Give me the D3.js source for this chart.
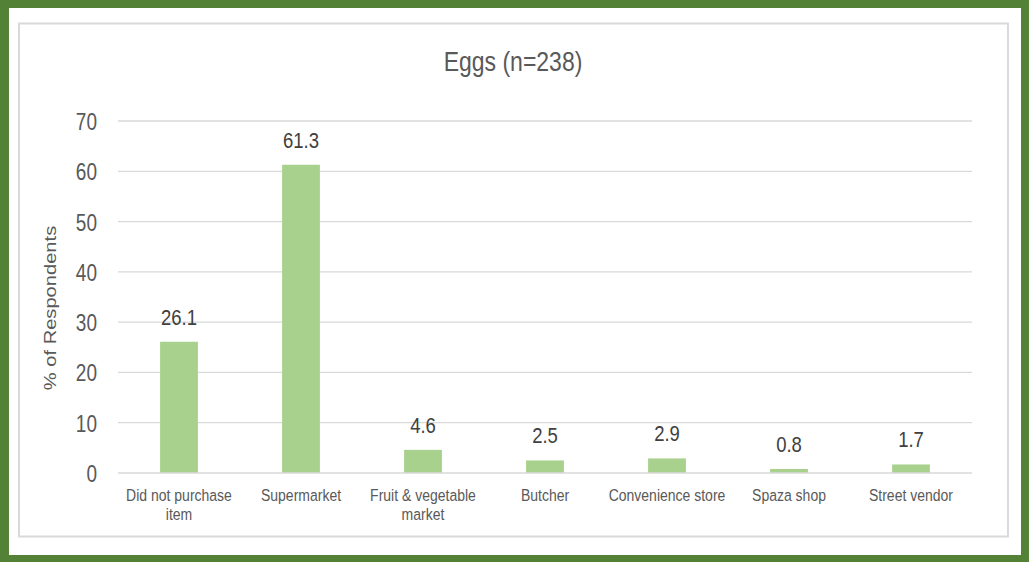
<!DOCTYPE html>
<html>
<head>
<meta charset="utf-8">
<script src="https://cdn.jsdelivr.net/npm/d3@7"></script>
<style>
  html, body { margin: 0; padding: 0; background: #538135; }
  svg { display: block; }
  text { font-family: "Liberation Sans", Arial, sans-serif; }
</style>
</head>
<body>
<svg id="chart" width="1029" height="562"></svg>
<script>
// Where shoppers bought eggs, % of respondents
const title = "Eggs (n=238)";
const categories = [
  ["Did not purchase", "item"],
  ["Supermarket"],
  ["Fruit & vegetable", "market"],
  ["Butcher"],
  ["Convenience store"],
  ["Spaza shop"],
  ["Street vendor"]
];
const values = [26.1, 61.3, 4.6, 2.5, 2.9, 0.8, 1.7];
const yTicks = [0, 10, 20, 30, 40, 50, 60, 70];
const yLabel = "% of Respondents";

const W = 1029, H = 562;
const plot = { left: 118, right: 972, top: 121, bottom: 473 };
const stretch = 1.22; // text is drawn slightly tall and narrow

const svg = d3.select("#chart");

// frame: green edge, white card, light grey chart border
svg.append("rect").attr("x", 0).attr("y", 0).attr("width", W).attr("height", H).attr("fill", "#538135");
svg.append("rect").attr("x", 9).attr("y", 8).attr("width", 1012).attr("height", 547).attr("fill", "#ffffff");
svg.append("rect").attr("x", 19).attr("y", 23.5).attr("width", 989).attr("height", 513)
  .attr("fill", "#ffffff").attr("stroke", "#d9d9d9").attr("stroke-width", 2);

const keys = categories.map(c => c.join(" "));
const x = d3.scaleBand().domain(keys).range([plot.left, plot.right])
  .paddingInner(0.69).paddingOuter(0.345);
const y = d3.scaleLinear().domain([0, 70]).range([plot.bottom, plot.top]);

function tall(sel, tx, ty, extra) {
  return sel.attr("transform", `translate(${tx},${ty}) scale(1,${stretch})` + (extra || ""));
}

// gridlines
svg.append("g").selectAll("line").data(yTicks.filter(d => d > 0)).join("line")
  .attr("x1", plot.left).attr("x2", plot.right)
  .attr("y1", d => y(d)).attr("y2", d => y(d))
  .attr("stroke", "#d9d9d9").attr("stroke-width", 1.3);

// y tick labels
svg.append("g").selectAll("text").data(yTicks).join("text")
  .each(function (d) { tall(d3.select(this), 97, y(d) + 9); })
  .attr("text-anchor", "end").attr("font-size", 19).attr("fill", "#595959")
  .text(d => d);

// bars
svg.append("g").selectAll("rect").data(values).join("rect")
  .attr("x", (d, i) => x(keys[i])).attr("width", x.bandwidth())
  .attr("y", d => y(d)).attr("height", d => y(0) - y(d))
  .attr("fill", "#a9d18e");

// baseline
svg.append("line").attr("x1", plot.left).attr("x2", plot.right)
  .attr("y1", y(0)).attr("y2", y(0)).attr("stroke", "#d9d9d9").attr("stroke-width", 1.5);

// value labels
svg.append("g").selectAll("text").data(values).join("text")
  .each(function (d, i) { tall(d3.select(this), x(keys[i]) + x.bandwidth() / 2, y(d) - 17); })
  .attr("text-anchor", "middle").attr("font-size", 18.5).attr("fill", "#404040")
  .text(d => d.toFixed(1));

// category labels
const cat = svg.append("g").selectAll("text").data(categories).join("text")
  .each(function (d, i) { tall(d3.select(this), x(keys[i]) + x.bandwidth() / 2, 501); })
  .attr("text-anchor", "middle").attr("font-size", 14).attr("fill", "#595959");
cat.selectAll("tspan").data(d => d).join("tspan")
  .attr("x", 0).attr("dy", (d, i) => i === 0 ? 0 : 15.8)
  .text(d => d);

// axis title
tall(svg.append("text"), 56, 308, " rotate(-90)")
  .attr("text-anchor", "middle").attr("font-size", 16.5).attr("fill", "#595959")
  .text(yLabel);

// chart title
tall(svg.append("text"), 513, 71)
  .attr("text-anchor", "middle").attr("font-size", 23).attr("fill", "#595959")
  .text(title);
</script>
</body>
</html>
